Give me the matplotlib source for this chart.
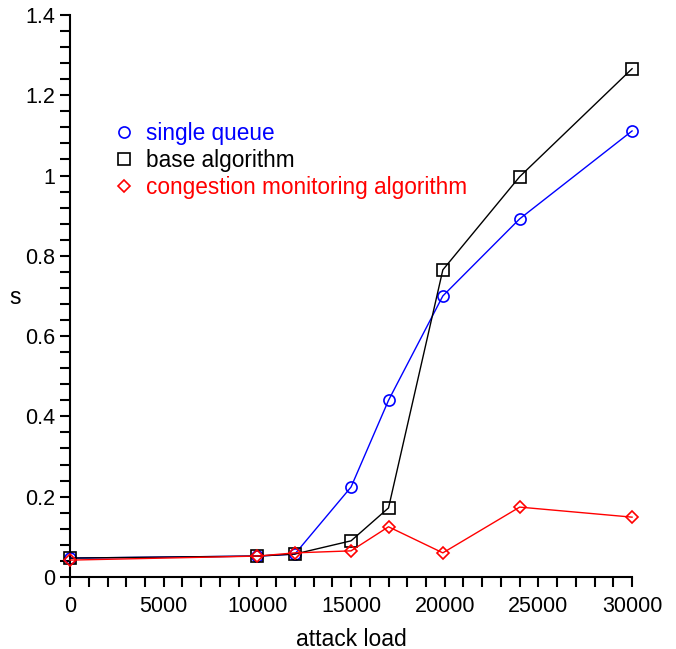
import matplotlib
matplotlib.use("Agg")
import matplotlib.pyplot as plt
from matplotlib.lines import Line2D
from matplotlib.ticker import MultipleLocator

plt.rcParams['font.family'] = ['Liberation Sans', 'DejaVu Sans']

# attack load values (x) for each series
load = [0, 10000, 12000, 15000, 17000, 19900, 24000, 30000]

single_queue = [0.047, 0.052, 0.057, 0.224, 0.44, 0.70, 0.892, 1.111]
base_algorithm = [0.047, 0.052, 0.057, 0.090, 0.172, 0.765, 0.997, 1.266]
congestion_monitoring = [0.042, 0.052, 0.060, 0.065, 0.125, 0.060, 0.174, 0.149]

labels = ['single queue', 'base algorithm', 'congestion monitoring algorithm']

W, H = 676, 649
fig = plt.figure(figsize=(W / 100, H / 100), dpi=100)
ax = fig.add_axes([0.1036, 0.111, 0.8314, 0.866])

ax.plot(load, single_queue, color='#0000ff', lw=1.0, marker='o', ms=8,
        mfc='none', mec='#0000ff', mew=1.2, clip_on=False, zorder=3)
ax.plot(load, base_algorithm, color='black', lw=1.0, marker='s', ms=8,
        mfc='none', mec='black', mew=1.2, clip_on=False, zorder=3)
ax.plot(load, congestion_monitoring, color='#ff0000', lw=1.0, marker='D', ms=6,
        mfc='none', mec='#ff0000', mew=1.2, clip_on=False, zorder=4)

ax.set_xlim(0, 30000)
ax.set_ylim(0, 1.4)

ax.xaxis.set_major_locator(MultipleLocator(5000))
ax.xaxis.set_minor_locator(MultipleLocator(1000))
ax.yaxis.set_minor_locator(MultipleLocator(0.04))
ax.set_yticks([0, 0.2, 0.4, 0.6, 0.8, 1, 1.2, 1.4])
ax.set_yticklabels(['0', '0.2', '0.4', '0.6', '0.8', '1', '1.2', '1.4'])

for side in ['top', 'right']:
    ax.spines[side].set_visible(False)
for side in ['left', 'bottom']:
    ax.spines[side].set_linewidth(1.5)

ax.tick_params(which='both', direction='out', length=7, width=1.5,
               labelsize=15.5)
ax.tick_params(axis='x', pad=7)
ax.tick_params(axis='y', pad=4)

# axis labels placed in figure pixels (the "s" stands upright)
fig.text(351 / W, 1 - 639 / H, 'attack load', fontsize=16.5,
         ha='center', va='center')
fig.text(15 / W, 1 - 298 / H, 's', fontsize=16.5, ha='center', va='center')

handles = [
    Line2D([], [], ls='none', marker='o', ms=8, mfc='none', mec='#0000ff', mew=1.2),
    Line2D([], [], ls='none', marker='s', ms=8, mfc='none', mec='black', mew=1.2),
    Line2D([], [], ls='none', marker='D', ms=6, mfc='none', mec='#ff0000', mew=1.2),
]
leg = ax.legend(handles, labels, loc='upper left', bbox_to_anchor=(0.08, 0.81),
                frameon=False, fontsize=16.3, handlelength=0.8, handletextpad=0.55,
                labelspacing=0.18, borderpad=0, borderaxespad=0)
for txt, col in zip(leg.get_texts(), ['#0000ff', 'black', '#ff0000']):
    txt.set_color(col)

fig.savefig('out.png', dpi=100)
